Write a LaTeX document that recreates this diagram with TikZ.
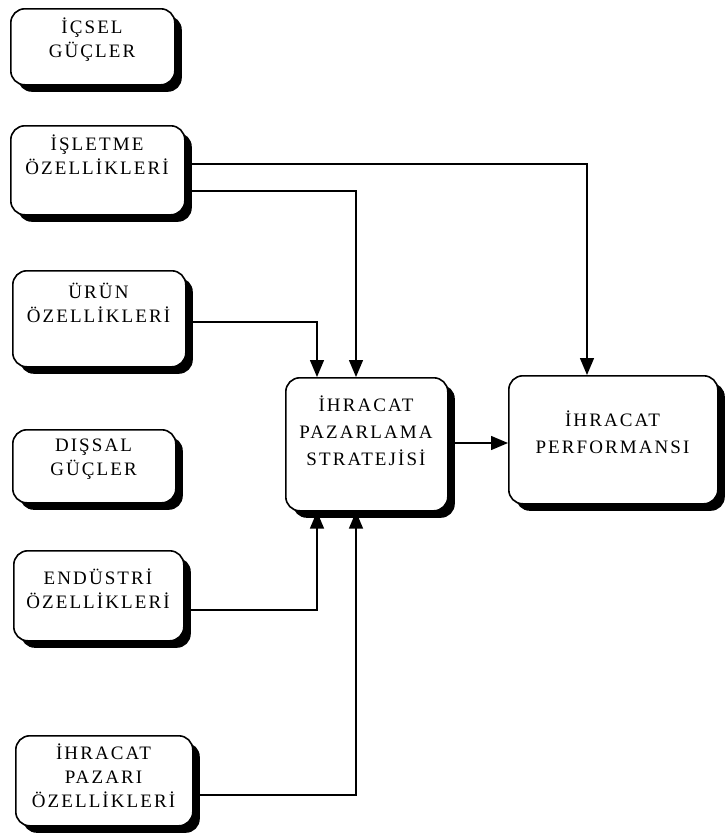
\documentclass[tikz,border=0pt]{standalone}
\usepackage{fontspec}
\setmainfont{Liberation Serif}[LetterSpace=11]
\usetikzlibrary{arrows.meta,shadows}
\begin{document}
\begin{tikzpicture}[x=1pt,y=-1pt,
  box/.style={draw=black, line width=1.6pt, fill=white, rounded corners=14pt,
    inner sep=0pt, anchor=north west,
    drop shadow={shadow xshift=7pt, shadow yshift=-7pt, opacity=1, fill=black}},
  txt/.style={align=center, inner sep=0pt, anchor=base, font=\fontsize{19}{24}\selectfont},
  txtb/.style={align=center, inner sep=0pt, anchor=base, font=\fontsize{19}{27}\selectfont},
  conn/.style={draw=black, line width=1.4pt, -{Triangle[length=17pt,width=14pt]}}
]
\useasboundingbox (0,0) rectangle (726,835);
% boxes
\node[box, minimum width=164, minimum height=76] (icsel) at (10,8) {};
\node[box, minimum width=174, minimum height=89] (isletme) at (10,125) {};
\node[box, minimum width=173, minimum height=96] (urun) at (12,270) {};
\node[box, minimum width=163, minimum height=73] (dissal) at (12,429) {};
\node[box, minimum width=170, minimum height=90] (endustri) at (13,550) {};
\node[box, minimum width=177, minimum height=90] (pazari) at (15,735) {};
\node[box, minimum width=162, minimum height=133] (strategy) at (285,377) {};
\node[box, minimum width=209, minimum height=128] (performance) at (508,375) {};
% texts (anchored at the baseline of the last line)
\node[txt] (ticsel) at (92,57) {İÇSEL\\GÜÇLER};
\node[txt] (tisletme) at (97,174) {İŞLETME\\ÖZELLİKLERİ};
\node[txt] (turun) at (98.5,322) {ÜRÜN\\ÖZELLİKLERİ};
\node[txt] (tdissal) at (93.5,475) {DIŞSAL\\GÜÇLER};
\node[txt] (tendustri) at (98,608) {ENDÜSTRİ\\ÖZELLİKLERİ};
\node[txt] (tpazari) at (103.5,807) {İHRACAT\\PAZARI\\ÖZELLİKLERİ};
\node[txtb] (tstrategy) at (366,465) {İHRACAT\\PAZARLAMA\\STRATEJİSİ};
\node[txtb] (tperformance) at (612.5,453) {İHRACAT\\PERFORMANSI};
% turning points
\coordinate (c1) at (587,164);
\coordinate (c2) at (356,191);
\coordinate (c3) at (317,322);
\coordinate (c4) at (317,610);
\coordinate (c5) at (356,795);
\coordinate (c6) at (400,443);
% connectors
\draw[conn] (isletme.east |- c1) -- (c1) -- (c1 |- performance.north);
\draw[conn] (isletme.east |- c2) -- (c2) -- (c2 |- strategy.north);
\draw[conn] (urun.east |- c3) -- (c3) -- (c3 |- strategy.north);
\draw[conn] (endustri.east |- c4) -- (c4) -- (c4 |- strategy.south);
\draw[conn] (pazari.east |- c5) -- (c5) -- (c5 |- strategy.south);
\draw[conn] (strategy.east |- c6) -- (performance.west |- c6);
\end{tikzpicture}
\end{document}
